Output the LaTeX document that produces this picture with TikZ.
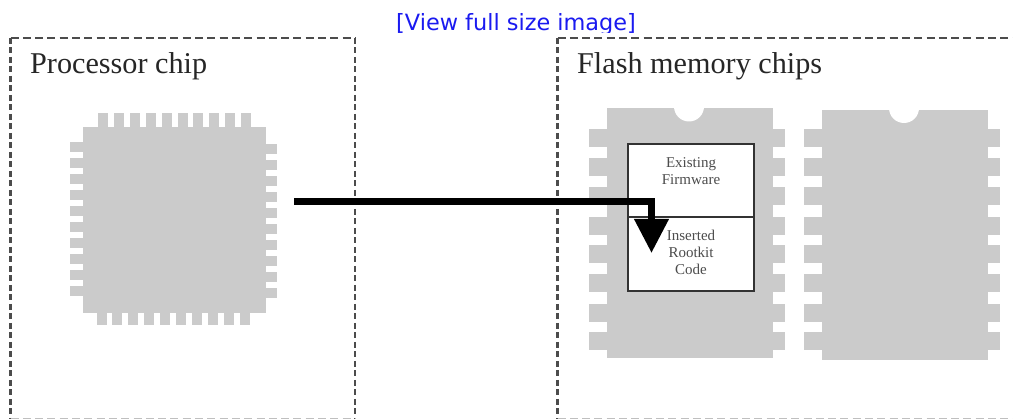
\documentclass[tikz,border=0pt]{standalone}
\usepackage{fontspec}
\setmainfont{Liberation Serif}
\newfontfamily\linkfont{DejaVu Sans}
\usetikzlibrary{arrows.meta}
\definecolor{chipgray}{HTML}{CBCBCB}
\definecolor{linkblue}{HTML}{1A1AF0}
\tikzset{
	frameh/.style={draw=black!70,line width=2.5pt,dash pattern=on 8pt off 4.3pt},
	framev/.style={draw=black!70,line width=2.5pt,dash pattern=on 6pt off 3.5pt},
	frameb/.style={draw=black!25,line width=1pt,dash pattern=on 8pt off 4.3pt},
	chip/.style={fill=chipgray,draw=none,inner sep=0pt},
	pin/.style={fill=chipgray,draw=none},
	title/.style={anchor=base west,inner sep=0pt,font=\fontsize{30.2}{30}\selectfont,text=black!85},
	memcell/.style={draw=black!80,fill=white,line width=2pt,inner sep=0pt,minimum width=126pt,
		align=center,font=\fontsize{15}{17}\selectfont,text=black!70},
}
\begin{document}
\begin{tikzpicture}[x=1pt,y=-1pt]
	\useasboundingbox (0,0) rectangle (1013,419);
	\path
	(294,202) coordinate (S)
	(651.5,253) coordinate (T)
	;
	% outer frames
	\foreach \l/\r in {10.5/355,557.5/1020}{
		\draw[frameh] (\l,38)--(\r,38);
		\draw[framev] (\l,38)--(\l,419);
		\draw[framev] (\r,38)--(\r,419);
		\draw[frameb] (\l,418.5)--(\r,418.5);
	}
	\node[title] (ProcTitle) at (30,74) {Processor chip};
	\node[title] (FlashTitle) at (577,74) {Flash memory chips};
	\begin{scope}
		\clip (380,0) rectangle (650,33);
		\node[anchor=base west,inner sep=0pt,text=linkblue,font=\linkfont\fontsize{22.4}{22}\selectfont] (Link) at (396,31) {[View full size image]};
	\end{scope}
	% processor
	\foreach \i in {0,...,9}{
		\fill[pin] ({98+15.9*\i},113) rectangle ++(10,14);
		\fill[pin] ({96.5+15.9*\i},313) rectangle ++(10,12);
		\fill[pin] (70,{142+16*\i}) rectangle ++(13,10.5);
		\fill[pin] (266,{144+16*\i}) rectangle ++(11,10);
	}
	\node[chip,minimum width=183pt,minimum height=186pt] (Proc) at (174.5,220) {};
	% flash chips
	\foreach \x/\n/\t in {607/A/108,822/B/109.5}{
		\foreach \y in {129,158,187,217,245,274,304,332}{
			\fill[pin] ({\x-18},\y) rectangle ++(18,18);
			\fill[pin] ({\x+165},\y) rectangle ++(13,18);
		}
		\node[chip,anchor=north west,minimum width=166pt,minimum height=250pt] (Chip\n) at (\x,\t) {};
		\fill[white] ({\x+82},{\t-1.5}) circle (15pt);
	}
	\node[memcell,anchor=north west,minimum height=73pt] (Firm) at (627,143) {Existing\\Firmware\\[1pt]};
	\node[memcell,anchor=north west,minimum height=74pt] (Root) at (627,216) {Inserted\\Rootkit\\Code\\[-13pt]};
	% write path
	\draw[line width=7pt,-{Triangle[length=34pt,width=33pt]}] (S)-|(T);
\end{tikzpicture}
\end{document}
